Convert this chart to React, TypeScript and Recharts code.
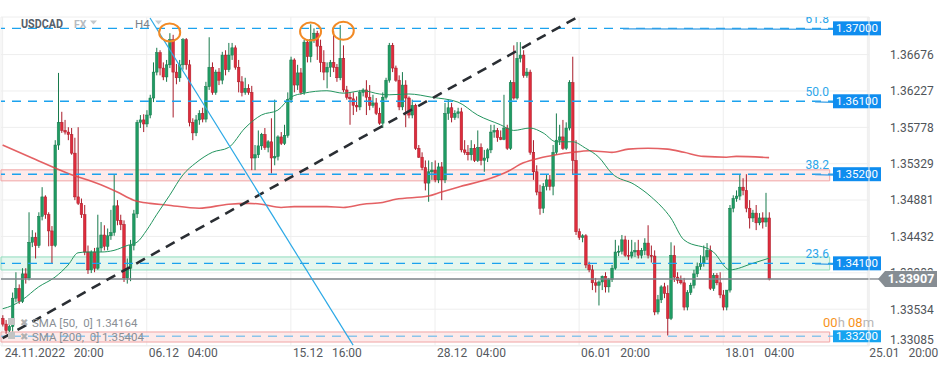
import React from 'react';
import {
  ComposedChart,
  Bar,
  Line,
  XAxis,
  YAxis,
  CartesianGrid,
  ReferenceLine,
  ReferenceArea,
  ReferenceDot,
} from 'recharts';

// H4 candles, [open, high, low, close]
const candles: number[][] = [
  [1.3342, 1.3346, 1.3332, 1.3335], [1.3335, 1.3340, 1.3323, 1.3327], [1.3327, 1.3337, 1.3324, 1.3332], [1.3332, 1.3374, 1.3326, 1.3367],
  [1.3367, 1.3399, 1.3362, 1.3379], [1.3379, 1.3384, 1.3360, 1.3363], [1.3363, 1.3404, 1.3361, 1.3397], [1.3397, 1.3404, 1.3385, 1.3392],
  [1.3392, 1.3473, 1.3389, 1.3436], [1.3436, 1.3451, 1.3430, 1.3442], [1.3442, 1.3448, 1.3416, 1.3432], [1.3432, 1.3473, 1.3429, 1.3468],
  [1.3468, 1.3504, 1.3463, 1.3492], [1.3492, 1.3494, 1.3465, 1.3470], [1.3470, 1.3473, 1.3431, 1.3450], [1.3450, 1.3456, 1.3410, 1.3432],
  [1.3432, 1.3562, 1.3430, 1.3556], [1.3556, 1.3645, 1.3550, 1.3584], [1.3584, 1.3597, 1.3571, 1.3574], [1.3574, 1.3587, 1.3569, 1.3572],
  [1.3572, 1.3578, 1.3562, 1.3569], [1.3569, 1.3577, 1.3544, 1.3546], [1.3546, 1.3565, 1.3488, 1.3492], [1.3492, 1.3578, 1.3482, 1.3484],
  [1.3484, 1.3490, 1.3466, 1.3470], [1.3470, 1.3482, 1.3420, 1.3424], [1.3424, 1.3432, 1.3397, 1.3402], [1.3402, 1.3426, 1.3398, 1.3424],
  [1.3424, 1.3429, 1.3399, 1.3404], [1.3404, 1.3470, 1.3402, 1.3429], [1.3429, 1.3461, 1.3424, 1.3445], [1.3445, 1.3457, 1.3426, 1.3431],
  [1.3431, 1.3453, 1.3426, 1.3444], [1.3444, 1.3476, 1.3439, 1.3448], [1.3448, 1.3519, 1.3444, 1.3481], [1.3481, 1.3488, 1.3457, 1.3463],
  [1.3463, 1.3470, 1.3451, 1.3458], [1.3458, 1.3463, 1.3387, 1.3392], [1.3392, 1.3416, 1.3385, 1.3404], [1.3404, 1.3439, 1.3388, 1.3432],
  [1.3432, 1.3476, 1.3426, 1.3471], [1.3471, 1.3587, 1.3466, 1.3584], [1.3584, 1.3593, 1.3577, 1.3587], [1.3587, 1.3594, 1.3572, 1.3582],
  [1.3582, 1.3599, 1.3578, 1.3593], [1.3593, 1.3618, 1.3589, 1.3614], [1.3614, 1.3658, 1.3609, 1.3646], [1.3646, 1.3676, 1.3642, 1.3670],
  [1.3670, 1.3673, 1.3642, 1.3651], [1.3651, 1.3658, 1.3636, 1.3640], [1.3640, 1.3661, 1.3634, 1.3655], [1.3655, 1.3694, 1.3651, 1.3686],
  [1.3686, 1.3692, 1.3590, 1.3646], [1.3646, 1.3656, 1.3631, 1.3639], [1.3639, 1.3661, 1.3634, 1.3655], [1.3655, 1.3688, 1.3649, 1.3686],
  [1.3686, 1.3688, 1.3649, 1.3655], [1.3655, 1.3661, 1.3579, 1.3584], [1.3584, 1.3589, 1.3562, 1.3571], [1.3571, 1.3593, 1.3567, 1.3587],
  [1.3587, 1.3599, 1.3581, 1.3595], [1.3595, 1.3602, 1.3584, 1.3588], [1.3588, 1.3634, 1.3584, 1.3628], [1.3628, 1.3689, 1.3624, 1.3652],
  [1.3652, 1.3658, 1.3618, 1.3621], [1.3621, 1.3649, 1.3618, 1.3646], [1.3646, 1.3651, 1.3630, 1.3636], [1.3636, 1.3671, 1.3631, 1.3667],
  [1.3667, 1.3673, 1.3642, 1.3649], [1.3649, 1.3682, 1.3646, 1.3667], [1.3667, 1.3682, 1.3661, 1.3676], [1.3676, 1.3679, 1.3649, 1.3652],
  [1.3652, 1.3661, 1.3621, 1.3634], [1.3634, 1.3641, 1.3616, 1.3621], [1.3621, 1.3639, 1.3618, 1.3626], [1.3626, 1.3631, 1.3618, 1.3621],
  [1.3621, 1.3629, 1.3525, 1.3540], [1.3540, 1.3556, 1.3525, 1.3544], [1.3544, 1.3574, 1.3540, 1.3555], [1.3555, 1.3571, 1.3550, 1.3569],
  [1.3569, 1.3577, 1.3550, 1.3553], [1.3553, 1.3562, 1.3547, 1.3560], [1.3560, 1.3589, 1.3521, 1.3540], [1.3540, 1.3612, 1.3531, 1.3542],
  [1.3542, 1.3568, 1.3537, 1.3566], [1.3566, 1.3572, 1.3556, 1.3558], [1.3558, 1.3581, 1.3556, 1.3568], [1.3568, 1.3621, 1.3565, 1.3612],
  [1.3612, 1.3665, 1.3608, 1.3661], [1.3661, 1.3663, 1.3621, 1.3630], [1.3630, 1.3655, 1.3624, 1.3645], [1.3645, 1.3651, 1.3618, 1.3621],
  [1.3621, 1.3686, 1.3618, 1.3683], [1.3683, 1.3686, 1.3658, 1.3665], [1.3665, 1.3705, 1.3658, 1.3686], [1.3686, 1.3700, 1.3682, 1.3694],
  [1.3694, 1.3697, 1.3661, 1.3678], [1.3678, 1.3686, 1.3646, 1.3658], [1.3658, 1.3673, 1.3636, 1.3646], [1.3646, 1.3658, 1.3626, 1.3652],
  [1.3652, 1.3661, 1.3640, 1.3658], [1.3658, 1.3697, 1.3646, 1.3652], [1.3652, 1.3656, 1.3634, 1.3639], [1.3639, 1.3704, 1.3636, 1.3663],
  [1.3663, 1.3679, 1.3621, 1.3624], [1.3624, 1.3629, 1.3612, 1.3615], [1.3615, 1.3621, 1.3581, 1.3613], [1.3613, 1.3621, 1.3593, 1.3605],
  [1.3605, 1.3616, 1.3597, 1.3603], [1.3603, 1.3624, 1.3599, 1.3621], [1.3621, 1.3626, 1.3616, 1.3624], [1.3624, 1.3636, 1.3593, 1.3615],
  [1.3615, 1.3630, 1.3599, 1.3605], [1.3605, 1.3618, 1.3602, 1.3608], [1.3608, 1.3614, 1.3593, 1.3595], [1.3595, 1.3602, 1.3581, 1.3583],
  [1.3583, 1.3621, 1.3577, 1.3615], [1.3615, 1.3639, 1.3612, 1.3636], [1.3636, 1.3682, 1.3633, 1.3679], [1.3679, 1.3682, 1.3646, 1.3651],
  [1.3651, 1.3654, 1.3634, 1.3636], [1.3636, 1.3642, 1.3599, 1.3603], [1.3603, 1.3646, 1.3599, 1.3630], [1.3630, 1.3636, 1.3578, 1.3614],
  [1.3614, 1.3616, 1.3589, 1.3593], [1.3593, 1.3612, 1.3589, 1.3605], [1.3605, 1.3607, 1.3550, 1.3552], [1.3552, 1.3556, 1.3540, 1.3541],
  [1.3541, 1.3547, 1.3525, 1.3528], [1.3528, 1.3537, 1.3500, 1.3509], [1.3509, 1.3537, 1.3486, 1.3523], [1.3523, 1.3535, 1.3513, 1.3525],
  [1.3525, 1.3537, 1.3510, 1.3513], [1.3513, 1.3534, 1.3509, 1.3529], [1.3529, 1.3535, 1.3488, 1.3513], [1.3513, 1.3608, 1.3509, 1.3595],
  [1.3595, 1.3612, 1.3587, 1.3602], [1.3602, 1.3608, 1.3584, 1.3590], [1.3590, 1.3599, 1.3587, 1.3595], [1.3595, 1.3602, 1.3589, 1.3597],
  [1.3597, 1.3602, 1.3547, 1.3550], [1.3550, 1.3562, 1.3544, 1.3547], [1.3547, 1.3556, 1.3537, 1.3544], [1.3544, 1.3562, 1.3537, 1.3552],
  [1.3552, 1.3557, 1.3535, 1.3537], [1.3537, 1.3574, 1.3535, 1.3553], [1.3553, 1.3558, 1.3531, 1.3537], [1.3537, 1.3550, 1.3523, 1.3540],
  [1.3540, 1.3552, 1.3535, 1.3550], [1.3550, 1.3581, 1.3546, 1.3572], [1.3572, 1.3581, 1.3565, 1.3574], [1.3574, 1.3577, 1.3560, 1.3565],
  [1.3565, 1.3574, 1.3562, 1.3563], [1.3563, 1.3618, 1.3562, 1.3577], [1.3577, 1.3581, 1.3550, 1.3552], [1.3552, 1.3636, 1.3550, 1.3633],
  [1.3633, 1.3679, 1.3612, 1.3614], [1.3614, 1.3683, 1.3612, 1.3663], [1.3663, 1.3683, 1.3658, 1.3667], [1.3667, 1.3673, 1.3639, 1.3642],
  [1.3642, 1.3651, 1.3639, 1.3646], [1.3646, 1.3649, 1.3544, 1.3547], [1.3547, 1.3562, 1.3513, 1.3523], [1.3523, 1.3531, 1.3494, 1.3498],
  [1.3498, 1.3507, 1.3470, 1.3478], [1.3478, 1.3509, 1.3472, 1.3505], [1.3505, 1.3519, 1.3500, 1.3513], [1.3513, 1.3519, 1.3500, 1.3505],
  [1.3505, 1.3556, 1.3494, 1.3547], [1.3547, 1.3595, 1.3544, 1.3562], [1.3562, 1.3581, 1.3556, 1.3566], [1.3566, 1.3587, 1.3550, 1.3552],
  [1.3552, 1.3584, 1.3550, 1.3577], [1.3577, 1.3636, 1.3574, 1.3633], [1.3633, 1.3665, 1.3519, 1.3537], [1.3537, 1.3562, 1.3445, 1.3449],
  [1.3449, 1.3453, 1.3439, 1.3442], [1.3442, 1.3446, 1.3436, 1.3444], [1.3444, 1.3446, 1.3404, 1.3408], [1.3408, 1.3412, 1.3399, 1.3402],
  [1.3402, 1.3408, 1.3377, 1.3386], [1.3386, 1.3392, 1.3374, 1.3383], [1.3383, 1.3389, 1.3358, 1.3387], [1.3387, 1.3395, 1.3377, 1.3394],
  [1.3394, 1.3399, 1.3374, 1.3381], [1.3381, 1.3392, 1.3374, 1.3390], [1.3390, 1.3408, 1.3387, 1.3404], [1.3404, 1.3439, 1.3402, 1.3424],
  [1.3424, 1.3432, 1.3419, 1.3425], [1.3425, 1.3445, 1.3421, 1.3439], [1.3439, 1.3444, 1.3418, 1.3420], [1.3420, 1.3439, 1.3414, 1.3419],
  [1.3419, 1.3439, 1.3416, 1.3424], [1.3424, 1.3436, 1.3418, 1.3426], [1.3426, 1.3439, 1.3416, 1.3420], [1.3420, 1.3429, 1.3416, 1.3426],
  [1.3426, 1.3441, 1.3420, 1.3435], [1.3435, 1.3457, 1.3416, 1.3420], [1.3420, 1.3432, 1.3411, 1.3419], [1.3419, 1.3426, 1.3346, 1.3350],
  [1.3350, 1.3371, 1.3347, 1.3365], [1.3365, 1.3383, 1.3361, 1.3381], [1.3381, 1.3386, 1.3367, 1.3373], [1.3373, 1.3383, 1.3321, 1.3342],
  [1.3342, 1.3436, 1.3340, 1.3420], [1.3420, 1.3432, 1.3387, 1.3393], [1.3393, 1.3399, 1.3385, 1.3389], [1.3389, 1.3395, 1.3384, 1.3386],
  [1.3386, 1.3392, 1.3352, 1.3356], [1.3356, 1.3377, 1.3352, 1.3374], [1.3374, 1.3386, 1.3371, 1.3383], [1.3383, 1.3402, 1.3379, 1.3397],
  [1.3397, 1.3411, 1.3393, 1.3406], [1.3406, 1.3420, 1.3402, 1.3410], [1.3410, 1.3432, 1.3406, 1.3418], [1.3418, 1.3435, 1.3414, 1.3426],
  [1.3426, 1.3432, 1.3377, 1.3379], [1.3379, 1.3398, 1.3376, 1.3395], [1.3395, 1.3398, 1.3383, 1.3386], [1.3386, 1.3399, 1.3367, 1.3371],
  [1.3371, 1.3377, 1.3352, 1.3356], [1.3356, 1.3377, 1.3352, 1.3377], [1.3377, 1.3482, 1.3374, 1.3478], [1.3478, 1.3494, 1.3473, 1.3490],
  [1.3490, 1.3500, 1.3486, 1.3493], [1.3493, 1.3519, 1.3488, 1.3504], [1.3504, 1.3515, 1.3494, 1.3500], [1.3500, 1.3520, 1.3473, 1.3478],
  [1.3478, 1.3488, 1.3453, 1.3466], [1.3466, 1.3476, 1.3461, 1.3472], [1.3472, 1.3482, 1.3451, 1.3460], [1.3460, 1.3472, 1.3457, 1.3466],
  [1.3466, 1.3473, 1.3453, 1.3461], [1.3461, 1.3497, 1.3455, 1.3466], [1.3466, 1.3473, 1.3389, 1.33907],
];

// SMA readings at candle indices [index, value]
const sma50: number[][] = [
  [0, 1.3354], [3, 1.3358], [6, 1.3365], [11, 1.3381], [16, 1.3393], [20, 1.3408], [23, 1.3423], [26, 1.3424],
  [30, 1.3424], [34, 1.3426], [38, 1.3432], [41, 1.3436], [44, 1.3451], [47, 1.3470], [51, 1.3494], [55, 1.3519],
  [59, 1.3534], [64, 1.3547], [69, 1.3553], [74, 1.3577], [79, 1.3593], [84, 1.3599], [88, 1.3615], [92, 1.3620],
  [99, 1.3623], [104, 1.3620], [110, 1.3623], [115, 1.3619], [118, 1.3618], [124, 1.3619], [131, 1.3615], [139, 1.3609],
  [145, 1.3593], [152, 1.3581], [156, 1.3574], [161, 1.3577], [165, 1.3571], [169, 1.3560], [174, 1.3560], [178, 1.3552],
  [182, 1.3541], [186, 1.3521], [193, 1.3507], [198, 1.3492], [204, 1.3466], [208, 1.3439], [217, 1.3424], [222, 1.3402],
  [229, 1.3410], [234, 1.34164],
];
const sma200: number[][] = [
  [0, 1.3556], [9, 1.3540], [20, 1.3521], [30, 1.3507], [35, 1.3498], [40, 1.3488], [45, 1.3484], [50, 1.3482],
  [60, 1.3478], [69, 1.3483], [75, 1.3484], [79, 1.3483], [85, 1.3479], [89, 1.3480], [99, 1.3480], [104, 1.3479],
  [110, 1.3483], [116, 1.3485], [120, 1.3489], [130, 1.3493], [134, 1.3498], [139, 1.3504], [149, 1.3515], [154, 1.3523],
  [159, 1.3534], [164, 1.3540], [169, 1.3544], [174, 1.3547], [179, 1.3549], [186, 1.3547], [191, 1.3551], [197, 1.3552],
  [203, 1.3551], [208, 1.3547], [214, 1.3542], [221, 1.3541], [224, 1.3542], [234, 1.35404],
];

const slotCount = 265;
const xTickIdx = [0, 44, 88, 132, 176, 220, 264];
const xTickLabels = ['24.11.2022   20:00', '06.12   04:00', '15.12   16:00', '28.12   04:00', '06.01   20:00', '18.01   04:00', '25.01   20:00'];
const yTicks = [1.33085, 1.33534, 1.33983, 1.34432, 1.34881, 1.35329, 1.35778, 1.36227, 1.36676];

const levels = [
  { price: 1.37, fib: '61.8', tag: '1.37000' },
  { price: 1.361, fib: '50.0', tag: '1.36100' },
  { price: 1.352, fib: '38.2', tag: '1.35200' },
  { price: 1.341, fib: '23.6', tag: '1.34100' },
  { price: 1.332, fib: '', tag: '1.33200' },
];
const zones = [
  { lo: 1.35118, hi: 1.35254, kind: 'red' },
  { lo: 1.34018, hi: 1.34179, kind: 'green' },
  { lo: 1.33129, hi: 1.33253, kind: 'red' },
];
const lastPrice = 1.33907;
const topMarks = [
  { i: 51, price: 1.3695 },
  { i: 94, price: 1.3696 },
  { i: 104, price: 1.3697 },
];
const trendUp = [{ x: 0, y: 1.33176 }, { x: 175, y: 1.37128 }];
const trendDown = [{ x: 45, y: 1.37128 }, { x: 107, y: 1.3309 }];

const s50Map = new Map(sma50.map(([i, v]) => [i, v]));
const s200Map = new Map(sma200.map(([i, v]) => [i, v]));
const rows = Array.from({ length: slotCount }, (_, i) => {
  const k = candles[i];
  return {
    i,
    o: k ? k[0] : undefined,
    h: k ? k[1] : undefined,
    l: k ? k[2] : undefined,
    c: k ? k[3] : undefined,
    s50: s50Map.get(i),
    s200: s200Map.get(i),
  };
});

const Candle = (props: any) => {
  const { x, y, width, height, payload } = props;
  if (!payload || payload.h == null || height == null) return null;
  const top = height < 0 ? y + height : y;
  const hh = Math.abs(height);
  const { o, h, l, c } = payload;
  const k = hh / (h - l);
  const yo = top + (h - o) * k;
  const yc = top + (h - c) * k;
  const up = c >= o;
  const cx = x + width / 2;
  const bw = 2.6;
  const dark = up ? '#177a4c' : '#a91c2a';
  const fill = up ? '#1f9b63' : '#de2c3c';
  return (
    <g>
      <line x1={cx} x2={cx} y1={top} y2={top + hh} stroke={dark} strokeWidth={1} />
      <rect x={cx - bw / 2} y={Math.min(yo, yc)} width={bw} height={Math.max(Math.abs(yc - yo), 1)} fill={fill} stroke={dark} strokeWidth={0.5} />
    </g>
  );
};

const XTick = ({ x, y, payload }: any) => {
  const n = xTickIdx.indexOf(payload.value);
  return (
    <text x={x + 2} y={y + 10.5} fontSize={12} fill="#55595e" style={{ whiteSpace: 'pre' }}>
      {xTickLabels[n]}
    </text>
  );
};

const YTick = ({ x, y, payload }: any) => {
  const v = payload.value;
  const dy = v === 1.33085 ? -2 : 4.3;
  return (
    <g>
      {v === 1.33983 && (
        <defs>
          <clipPath id="hideTick">
            <rect x={860} y={0} width={90} height={270.5} />
          </clipPath>
        </defs>
      )}
      <text x={x + 21} y={y + dy} fontSize={12} fill="#4f5459" clipPath={v === 1.33983 ? 'url(#hideTick)' : undefined}>
        {v.toFixed(5)}
      </text>
    </g>
  );
};

const LevelTag = ({ viewBox, tag, fib, fill, lead, boxH }: any) => {
  const y = viewBox.y;
  return (
    <g>
      <defs>
        <clipPath id={'fc' + tag}>
          <rect x={0} y={17} width={949} height={340} />
        </clipPath>
      </defs>
      {fib && (
        <text x={829} y={y - 5} textAnchor="end" fontSize={12} fill="#2ba6ea" clipPath={'url(#fc' + tag + ')'}>
          {fib}
        </text>
      )}
      {lead && <line x1={lead} x2={833} y1={y + 0.5} y2={y + 1} stroke="#3a9fe6" strokeWidth={1.3} />}
      <rect x={833} y={y - boxH / 2} width={48} height={boxH} fill={fill} />
      <text x={857} y={y + 4} textAnchor="middle" fontSize={11.5} fill="#ffffff">
        {tag}
      </text>
    </g>
  );
};

const LastTag = ({ viewBox }: any) => {
  const y = viewBox.y;
  return (
    <g>
      <line x1={viewBox.x + viewBox.width} x2={879} y1={y} y2={y} stroke="#7c8389" strokeWidth={1.3} />
      <polygon points={`878,${y} 885,${y - 8} 937,${y - 8} 937,${y + 8} 885,${y + 8}`} fill="#868d93" />
      <text x={911} y={y + 4.5} textAnchor="middle" fontSize={12.5} fontWeight="bold" fill="#ffffff">
        {lastPrice.toFixed(5)}
      </text>
    </g>
  );
};

const Ring = (props: any) => (
  <ellipse cx={props.cx} cy={props.cy} rx={10.5} ry={9} fill="none" stroke="#f28a25" strokeWidth={2} />
);

export default function App() {
  return (
    <div style={{ position: 'absolute', left: 0, top: 0, width: 949, height: 370, background: '#fff', fontFamily: 'Roboto, sans-serif' }}>
      <ComposedChart width={949} height={370} data={rows} margin={{ top: 17, right: 0, bottom: 0, left: 1 }}>
        <CartesianGrid stroke="#eeeeee" />
        <XAxis dataKey="i" ticks={xTickIdx} interval={0} tick={<XTick />} tickLine={false} axisLine={false} tickSize={0} tickMargin={0} height={24} />
        <YAxis
          orientation="right"
          type="number"
          domain={[1.3308, 1.3714]}
          allowDataOverflow
          ticks={yTicks}
          interval={0}
          tick={<YTick />}
          tickLine={false}
          tickSize={0}
          tickMargin={0}
          axisLine={{ stroke: '#ebebeb' }}
          width={80}
        />
        {zones.map((z, n) => (
          <ReferenceArea
            key={'z' + n}
            x1={0}
            x2={252}
            y1={z.lo}
            y2={z.hi}
            fill={z.kind === 'red' ? '#fbdcdc' : '#d3f2e4'}
            fillOpacity={0.6}
            stroke={z.kind === 'red' ? '#f0a4a4' : '#8fdcbd'}
            strokeWidth={1}
          />
        ))}
        <Bar dataKey={(d: any) => (d.h == null ? null : [d.l, d.h])} shape={<Candle />} isAnimationActive={false} />
        <Line dataKey="s200" type="monotone" connectNulls dot={false} stroke="#df4549" strokeOpacity={0.85} strokeWidth={1.6} isAnimationActive={false} />
        <Line dataKey="s50" type="monotone" connectNulls dot={false} stroke="#23955f" strokeWidth={1} isAnimationActive={false} />
        {levels.map((lv, n) => (
          <ReferenceLine
            key={'l' + n}
            y={lv.price}
            stroke={n === 4 ? '#8cc4ea' : '#1ba2ee'}
            strokeWidth={1.4}
            strokeDasharray="9 7"
            label={
              <LevelTag
                tag={lv.tag}
                fib={lv.fib}
                fill={n === 4 ? '#17a4f0' : '#0f8def'}
                lead={n === 0 ? 623 : n === 4 ? 0 : 815}
                boxH={n === 4 ? 12 : 14}
              />
            }
          />
        ))}
        <ReferenceLine y={lastPrice} stroke="#7c8389" strokeWidth={1.3} label={<LastTag />} />
        <ReferenceLine segment={trendUp} stroke="#2a2e33" strokeWidth={2.6} strokeDasharray="10 7" />
        <ReferenceLine segment={trendDown} stroke="#2ba8e6" strokeWidth={1.2} />
        {topMarks.map((m, n) => (
          <ReferenceDot key={'m' + n} x={m.i} y={m.price} r={9} shape={<Ring />} />
        ))}
      </ComposedChart>
      <svg width={949} height={370} style={{ position: 'absolute', left: 0, top: 0, pointerEvents: 'none' }}>
        <text x={21} y={28} fontSize={12.5} fontWeight="bold" fill="#58616b" textLength={42} lengthAdjust="spacingAndGlyphs">
          USDCAD
        </text>
        <text x={74} y={27.5} fontSize={10.5} fontWeight="bold" fill="#b6bbc0">
          FX
        </text>
        <polygon points="90,20.5 97,20.5 93.5,24.5" fill="#c3c7cb" />
        <text x={135} y={27.5} fontSize={11.5} fill="#7b828a">
          H4
        </text>
        <polygon points="155,20.5 162,20.5 158.5,24.5" fill="#c9cdd1" />

        <rect x={8} y={318} width={7} height={7} fill="#c3c3c3" />
        <text x={20} y={326} fontSize={10} fill="#b0b0b0" fontFamily="DejaVu Sans">✖</text>
        <text x={32} y={327} fontSize={11.5} fill="#8a8f95" style={{ whiteSpace: 'pre' }}>
          SMA [50,  0] 1.34164
        </text>
        <rect x={8} y={332} width={7} height={7} fill="#c3c3c3" />
        <text x={20} y={340} fontSize={10} fill="#b0b0b0" fontFamily="DejaVu Sans">✖</text>
        <text x={32} y={341} fontSize={11.5} fill="#8a8f95" style={{ whiteSpace: 'pre' }}>
          SMA [200,  0] 1.35404
        </text>

        <text x={823} y={327} fontSize={13} style={{ whiteSpace: 'pre' }}>
          <tspan fill="#f7941d">00</tspan>
          <tspan fill="#b7b7b7">h </tspan>
          <tspan fill="#f7941d">08</tspan>
          <tspan fill="#b7b7b7">m</tspan>
        </text>
      </svg>
    </div>
  );
}
